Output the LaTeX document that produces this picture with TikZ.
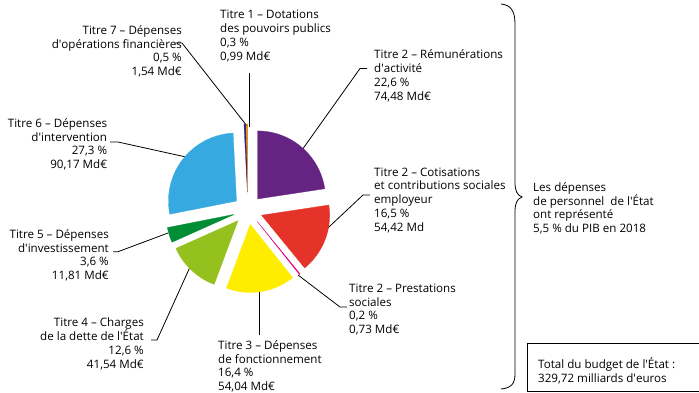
\documentclass[tikz,border=0pt]{standalone}
\usepackage{fontspec}
\setmainfont{Open Sans}
\usetikzlibrary{calc}
\definecolor{cpurple}{HTML}{662482}
\definecolor{cred}{HTML}{E6332A}
\definecolor{cpink}{HTML}{E6007E}
\definecolor{cyellow}{HTML}{FFED00}
\definecolor{clgreen}{HTML}{95C11F}
\definecolor{cdgreen}{HTML}{008D36}
\definecolor{cblue}{HTML}{36A9E1}
\definecolor{cnavy}{HTML}{312783}
\definecolor{corange}{HTML}{F39200}
\newcommand{\ap}{\textquotesingle}
\newcommand{\pieslice}[4]{%
  \pgfmathsetmacro\midang{(#1+#2)/2}%
  \begin{scope}[shift={(248,210)}, shift={({-\midang}:#4)}]
    \fill[#3, draw=#3, line width=0.3pt, line join=round] (0,0) -- plot[domain=#1:#2, samples=40] ({-\x}:68) -- cycle;
  \end{scope}}
\tikzset{
  lbl/.style={inner sep=0pt, font=\fontsize{11.6}{13.7}\selectfont},
  lblL/.style={lbl, align=left, anchor=base west},
  lblR/.style={lbl, align=right, anchor=base east},
  leader/.style={draw=black, line width=0.8pt},
}
\begin{document}
\begin{tikzpicture}[x=1pt,y=-1pt]
\useasboundingbox (0,0) rectangle (699,392);
\fill[white] (0,0) rectangle (699,392);

% labels (anchored at the baseline of their last line)
\node[lblL] (t1) at (220,60) {Titre 1 – Dotations\\des pouvoirs publics\\0,3~\%\\0,99 Md€};
\node[lblR] (t7) at (182,75.5) {Titre 7 – Dépenses\\d\ap opérations financières\hspace*{12pt}\\0,5~\%\\1,54 Md€};
\node[lblL] (t2r) at (374,100) {Titre 2 – Rémunérations\\d\ap activité\\22,6~\%\\74,48 Md€};
\node[lblL] (t2c) at (374,231) {Titre 2 – Cotisations\\et contributions sociales\\employeur\\16,5~\%\\54,42 Md};
\node[lblL] (t2p) at (349,333.5) {Titre 2 – Prestations\\sociales\\0,2~\%\\0,73 Md€};
\node[lblL] (t3) at (218,390.5) {Titre 3 – Dépenses\\de fonctionnement\\16,4~\%\\54,04 Md€};
\node[lblR] (t4) at (144,368) {Titre 4 – Charges\\de la dette de l\ap État\\12,6~\%\\41,54 Md€};
\node[lblR] (t5) at (109,279.5) {Titre 5 – Dépenses\\d\ap investissement\\3,6~\%\\11,81 Md€};
\node[lblR] (t6) at (107.3,168.5) {Titre 6 – Dépenses\\d\ap intervention\\27,3~\%\\90,17 Md€};
\node[lblL] (pers) at (533,232.5) {Les dépenses\\de personnel\ \ de l\ap État\\ont représenté\\5,5~\% du PIB en 2018};
\node[lblL] (tot) at (538,382) {Total du budget de l\ap État :\\329,72 milliards d\ap euros};

% total box
\coordinate (boxa) at (527,343);
\coordinate (boxb) at (712,391.2);
\draw[line width=0.8pt] (boxa) rectangle (boxb);

% brace
\coordinate (brtop) at (501,4);
\coordinate (brtip) at (522,197);
\coordinate (brbot) at (501,389);
\draw[line width=0.8pt] (brtop) .. controls (511,5) and (515,11) .. (515,24) -- (515,182)
  .. controls (515,191) and (517,195) .. (brtip)
  .. controls (517,199) and (515,203) .. (515,212) -- (515,374)
  .. controls (515,384) and (511,388) .. (brbot);

% leaders
\coordinate (t1a) at (249,73);   \coordinate (t1b) at (249,127);
\coordinate (t7a) at (175,43);   \coordinate (t7k) at (182,43);   \coordinate (t7b) at (247,126);
\coordinate (t2ra) at (367,68.5); \coordinate (t2rk) at (360,68.5); \coordinate (t2rb) at (302,150);
\coordinate (t2ca) at (370,195); \coordinate (t2ck) at (363,195); \coordinate (t2cb) at (314,241);
\coordinate (t2pa) at (347,307); \coordinate (t2pk) at (340,307); \coordinate (t2pb) at (298,275);
\coordinate (t3a) at (259.3,335); \coordinate (t3b) at (259.3,285);
\coordinate (t4a) at (151,340);  \coordinate (t4k) at (157,340);  \coordinate (t4b) at (190,267);
\coordinate (t5a) at (113,251.7); \coordinate (t5k) at (118,251.7); \coordinate (t5b) at (168,233);
\coordinate (t6a) at (110,142); \coordinate (t6k) at (118,142); \coordinate (t6b) at (186,157);
\draw[leader] (t1a) -- (t1b);
\draw[leader] (t7a) -- (t7k) -- (t7b);
\draw[leader] (t2ra) -- (t2rk) -- (t2rb);
\draw[leader] (t2ca) -- (t2ck) -- (t2cb);
\draw[leader] (t2pa) -- (t2pk) -- (t2pb);
\draw[leader] (t3a) -- (t3b);
\draw[leader] (t4a) -- (t4k) -- (t4b);
\draw[leader] (t5a) -- (t5k) -- (t5b);
\draw[leader] (t6a) -- (t6k) -- (t6b);

% pie
\pieslice{8.64}{90}{cpurple}{14.6}
\pieslice{-50.76}{8.64}{cred}{14.6}
\pieslice{-51.48}{-50.76}{cpink}{14.6}
\pieslice{-110.52}{-51.48}{cyellow}{14.6}
\pieslice{-155.88}{-110.52}{clgreen}{14.6}
\pieslice{-168.84}{-155.88}{cdgreen}{14.6}
\pieslice{92.88}{191.16}{cblue}{14.6}
\pieslice{91.08}{92.88}{cnavy}{18}
\pieslice{90}{91.08}{corange}{18}
\end{tikzpicture}
\end{document}
